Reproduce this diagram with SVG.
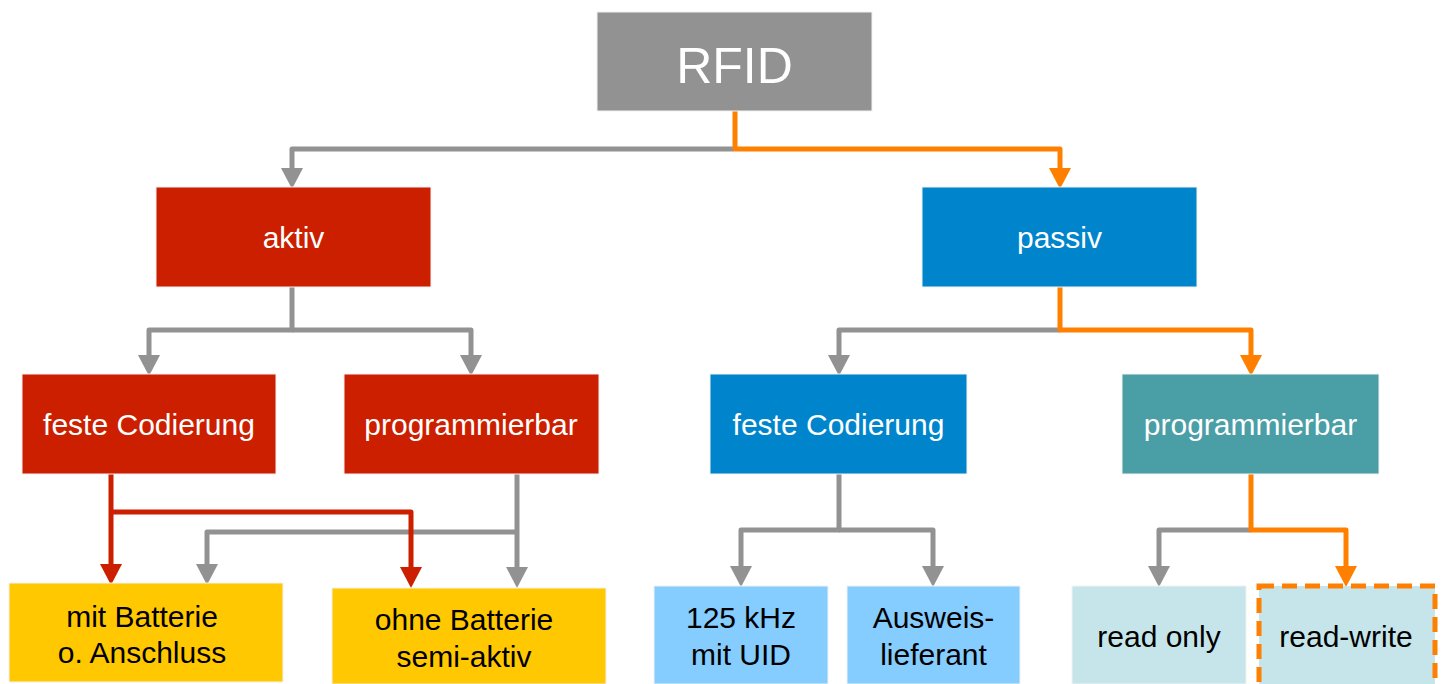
<svg xmlns="http://www.w3.org/2000/svg" width="1442" height="684" viewBox="0 0 1442 684">
  <style>
    .box { stroke: #f2f2f2; stroke-width: 1; }
    .lbl { font-family: "Liberation Sans", Arial, Helvetica, sans-serif; font-size: 30px; text-anchor: middle; }
    .w { fill: #ffffff; }
    .k { fill: #000000; }
    .c { fill: none; stroke-width: 5; stroke-linejoin: round; }
    .gray { stroke: #929292; }
    .orange { stroke: #ff8000; }
    .red { stroke: #cc1f00; }
  </style>
  <defs>
    <marker id="ah-gray" markerUnits="userSpaceOnUse" markerWidth="22" markerHeight="24" refX="0" refY="10" orient="auto" viewBox="0 0 20 20">
      <path d="M0,0 L19,10 L0,20 z" fill="#929292"/>
    </marker>
    <marker id="ah-orange" markerUnits="userSpaceOnUse" markerWidth="22" markerHeight="24" refX="0" refY="10" orient="auto" viewBox="0 0 20 20">
      <path d="M0,0 L19,10 L0,20 z" fill="#ff8000"/>
    </marker>
    <marker id="ah-red" markerUnits="userSpaceOnUse" markerWidth="22" markerHeight="24" refX="0" refY="10" orient="auto" viewBox="0 0 20 20">
      <path d="M0,0 L19,10 L0,20 z" fill="#cc1f00"/>
    </marker>
  </defs>

  <rect width="1442" height="684" fill="#ffffff"/>

  <!-- connectors -->
  <g id="connectors">
    <path class="c gray" d="M734,149 H292 V168" marker-end="url(#ah-gray)"/>
    <path class="c orange" d="M735,111 V149 H1060 V168" marker-end="url(#ah-orange)"/>

    <path class="c gray" d="M292,287 V330 H149 V355" marker-end="url(#ah-gray)"/>
    <path class="c gray" d="M292,330 H471 V355" marker-end="url(#ah-gray)"/>

    <path class="c gray" d="M1060,330 H839 V355" marker-end="url(#ah-gray)"/>
    <path class="c orange" d="M1060,287 V330 H1251 V355" marker-end="url(#ah-orange)"/>

    <path class="c gray" d="M517,474 V567" marker-end="url(#ah-gray)"/>
    <path class="c gray" d="M517,532 H207 V564" marker-end="url(#ah-gray)"/>
    <path class="c red" d="M111,474 V564" marker-end="url(#ah-red)"/>
    <path class="c red" d="M111,512 H411 V567" marker-end="url(#ah-red)"/>

    <path class="c gray" d="M839,474 V530 H741 V566" marker-end="url(#ah-gray)"/>
    <path class="c gray" d="M839,530 H933 V566" marker-end="url(#ah-gray)"/>

    <path class="c gray" d="M1251,530 H1159 V566" marker-end="url(#ah-gray)"/>
    <path class="c orange" d="M1251,474 V530 H1346 V566" marker-end="url(#ah-orange)"/>
  </g>

  <!-- nodes -->
  <g id="rfid">
    <rect class="box" x="597" y="12" width="275" height="99" fill="#929292"/>
    <text class="lbl w" x="734.5" y="83" style="font-size:50px">RFID</text>
  </g>

  <g id="aktiv">
    <rect class="box" x="156" y="187" width="275" height="100" fill="#cc1f00"/>
    <text class="lbl w" x="293.5" y="248">aktiv</text>
  </g>

  <g id="passiv">
    <rect class="box" x="922" y="187" width="275" height="100" fill="#0085cc"/>
    <text class="lbl w" x="1059.5" y="248">passiv</text>
  </g>

  <g id="aktiv-fest">
    <rect class="box" x="22" y="374" width="254" height="100" fill="#cc1f00"/>
    <text class="lbl w" x="149" y="435">feste Codierung</text>
  </g>

  <g id="aktiv-prog">
    <rect class="box" x="344" y="374" width="255" height="100" fill="#cc1f00"/>
    <text class="lbl w" x="471" y="435">programmierbar</text>
  </g>

  <g id="passiv-fest">
    <rect class="box" x="710" y="374" width="257" height="100" fill="#0085cc"/>
    <text class="lbl w" x="838.5" y="435">feste Codierung</text>
  </g>

  <g id="passiv-prog">
    <rect class="box" x="1122" y="374" width="257" height="100" fill="#4a9ea6"/>
    <text class="lbl w" x="1250.5" y="435">programmierbar</text>
  </g>

  <g id="mit-batterie">
    <rect class="box" x="9" y="583" width="274" height="99" fill="#ffc800"/>
    <text class="lbl k" x="142" y="627">mit Batterie</text>
    <text class="lbl k" x="142" y="663">o. Anschluss</text>
  </g>

  <g id="ohne-batterie">
    <rect class="box" x="332" y="588" width="274" height="96" fill="#ffc800"/>
    <text class="lbl k" x="464" y="630">ohne Batterie</text>
    <text class="lbl k" x="464" y="667">semi-aktiv</text>
  </g>

  <g id="khz125">
    <rect class="box" x="654" y="586" width="174" height="98" fill="#85ccff"/>
    <text class="lbl k" x="741" y="628">125 kHz</text>
    <text class="lbl k" x="741" y="665">mit UID</text>
  </g>

  <g id="ausweis">
    <rect class="box" x="847" y="586" width="173" height="98" fill="#85ccff"/>
    <text class="lbl k" x="933.5" y="628">Ausweis-</text>
    <text class="lbl k" x="933.5" y="665">lieferant</text>
  </g>

  <g id="read-only">
    <rect class="box" x="1072" y="586" width="174" height="98" fill="#c5e5ea"/>
    <text class="lbl k" x="1159" y="647">read only</text>
  </g>

  <g id="read-write">
    <rect x="1259" y="586" width="176" height="102" fill="#c5e5ea"/>
    <rect x="1259" y="586" width="176" height="102" fill="none" stroke="#ff8000" stroke-width="5" stroke-dasharray="15 8"/>
    <text class="lbl k" x="1346" y="647">read-write</text>
  </g>
</svg>
